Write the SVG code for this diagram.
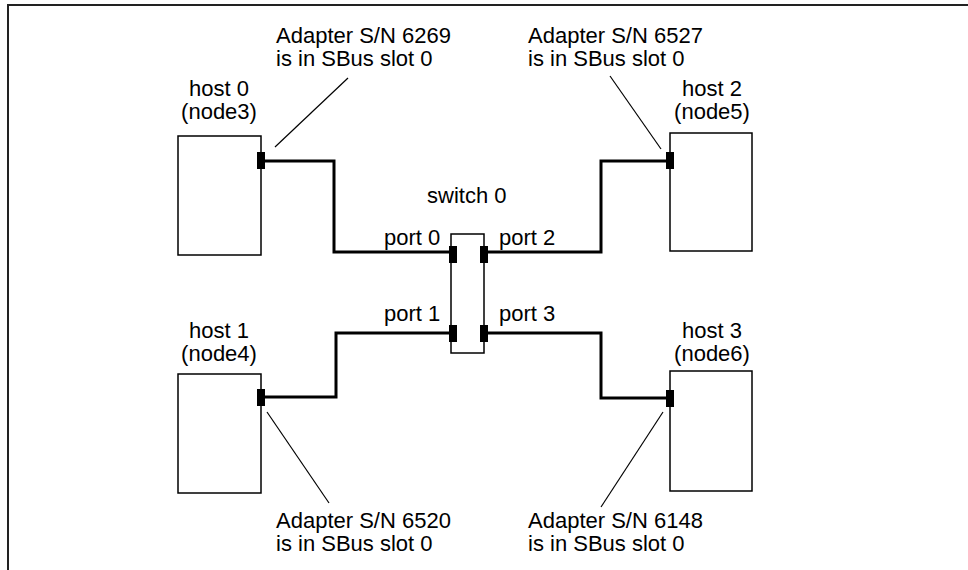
<svg xmlns="http://www.w3.org/2000/svg" width="968" height="570" viewBox="0 0 968 570">
  <style>
    .frame { fill: none; stroke: #222; stroke-width: 2; }
    .box { fill: #fff; stroke: #000; stroke-width: 1.5; }
    .plug { fill: #000; stroke: none; }
    .cable { fill: none; stroke: #000; stroke-width: 3; stroke-linejoin: miter; }
    .callout { fill: none; stroke: #000; stroke-width: 1.2; }
    text { font-family: "Liberation Sans", Arial, sans-serif; font-size: 22px; fill: #000; }
    .mid { text-anchor: middle; }
  </style>
  <rect x="0" y="0" width="968" height="570" fill="#fff"/>
  <path class="frame" d="M8,570 V5 H968"/>

  <!-- cables and callout leaders -->
  <g id="connectors">
    <path class="cable" d="M265,161 H334 V252 H449"/>
    <path class="cable" d="M265,397 H336 V333 H449"/>
    <path class="cable" d="M488,252 H601 V161 H666"/>
    <path class="cable" d="M488,333 H601 V398 H666"/>
    <line class="callout" x1="348" y1="78" x2="275" y2="147"/>
    <line class="callout" x1="610" y1="76" x2="661" y2="149"/>
    <line class="callout" x1="267" y1="412" x2="329" y2="503"/>
    <line class="callout" x1="663" y1="412" x2="601" y2="507"/>
  </g>

  <g id="host0">
    <rect class="box" x="178" y="136" width="83" height="119"/>
    <rect class="plug" x="257" y="152" width="8" height="17"/>
    <text class="mid" x="219" y="96">host 0</text>
    <text class="mid" x="219" y="119">(node3)</text>
  </g>
  <g id="host1">
    <rect class="box" x="178" y="374" width="83" height="119"/>
    <rect class="plug" x="257" y="389" width="8" height="17"/>
    <text class="mid" x="219" y="338">host 1</text>
    <text class="mid" x="219" y="361">(node4)</text>
  </g>
  <g id="host2">
    <rect class="box" x="670" y="133" width="82" height="118"/>
    <rect class="plug" x="666" y="152" width="8" height="17"/>
    <text class="mid" x="712" y="96">host 2</text>
    <text class="mid" x="712" y="119">(node5)</text>
  </g>
  <g id="host3">
    <rect class="box" x="670" y="371" width="82" height="120"/>
    <rect class="plug" x="666" y="390" width="8" height="17"/>
    <text class="mid" x="712" y="338">host 3</text>
    <text class="mid" x="712" y="361">(node6)</text>
  </g>

  <g id="switch0">
    <rect class="box" x="451" y="234" width="33" height="119"/>
    <rect class="plug" x="449" y="246" width="8" height="17"/>
    <rect class="plug" x="480" y="246" width="8" height="17"/>
    <rect class="plug" x="449" y="325" width="8" height="17"/>
    <rect class="plug" x="480" y="325" width="8" height="17"/>
    <text x="427" y="203">switch 0</text>
    <text x="384" y="245">port 0</text>
    <text x="384" y="321">port 1</text>
    <text x="499" y="245">port 2</text>
    <text x="499" y="321">port 3</text>
  </g>

  <g id="adapter6269">
    <text x="276" y="43">Adapter S/N 6269</text>
    <text x="276" y="66">is in SBus slot 0</text>
  </g>
  <g id="adapter6527">
    <text x="528" y="43">Adapter S/N 6527</text>
    <text x="528" y="66">is in SBus slot 0</text>
  </g>
  <g id="adapter6520">
    <text x="276" y="528">Adapter S/N 6520</text>
    <text x="276" y="551">is in SBus slot 0</text>
  </g>
  <g id="adapter6148">
    <text x="528" y="528">Adapter S/N 6148</text>
    <text x="528" y="551">is in SBus slot 0</text>
  </g>
</svg>
